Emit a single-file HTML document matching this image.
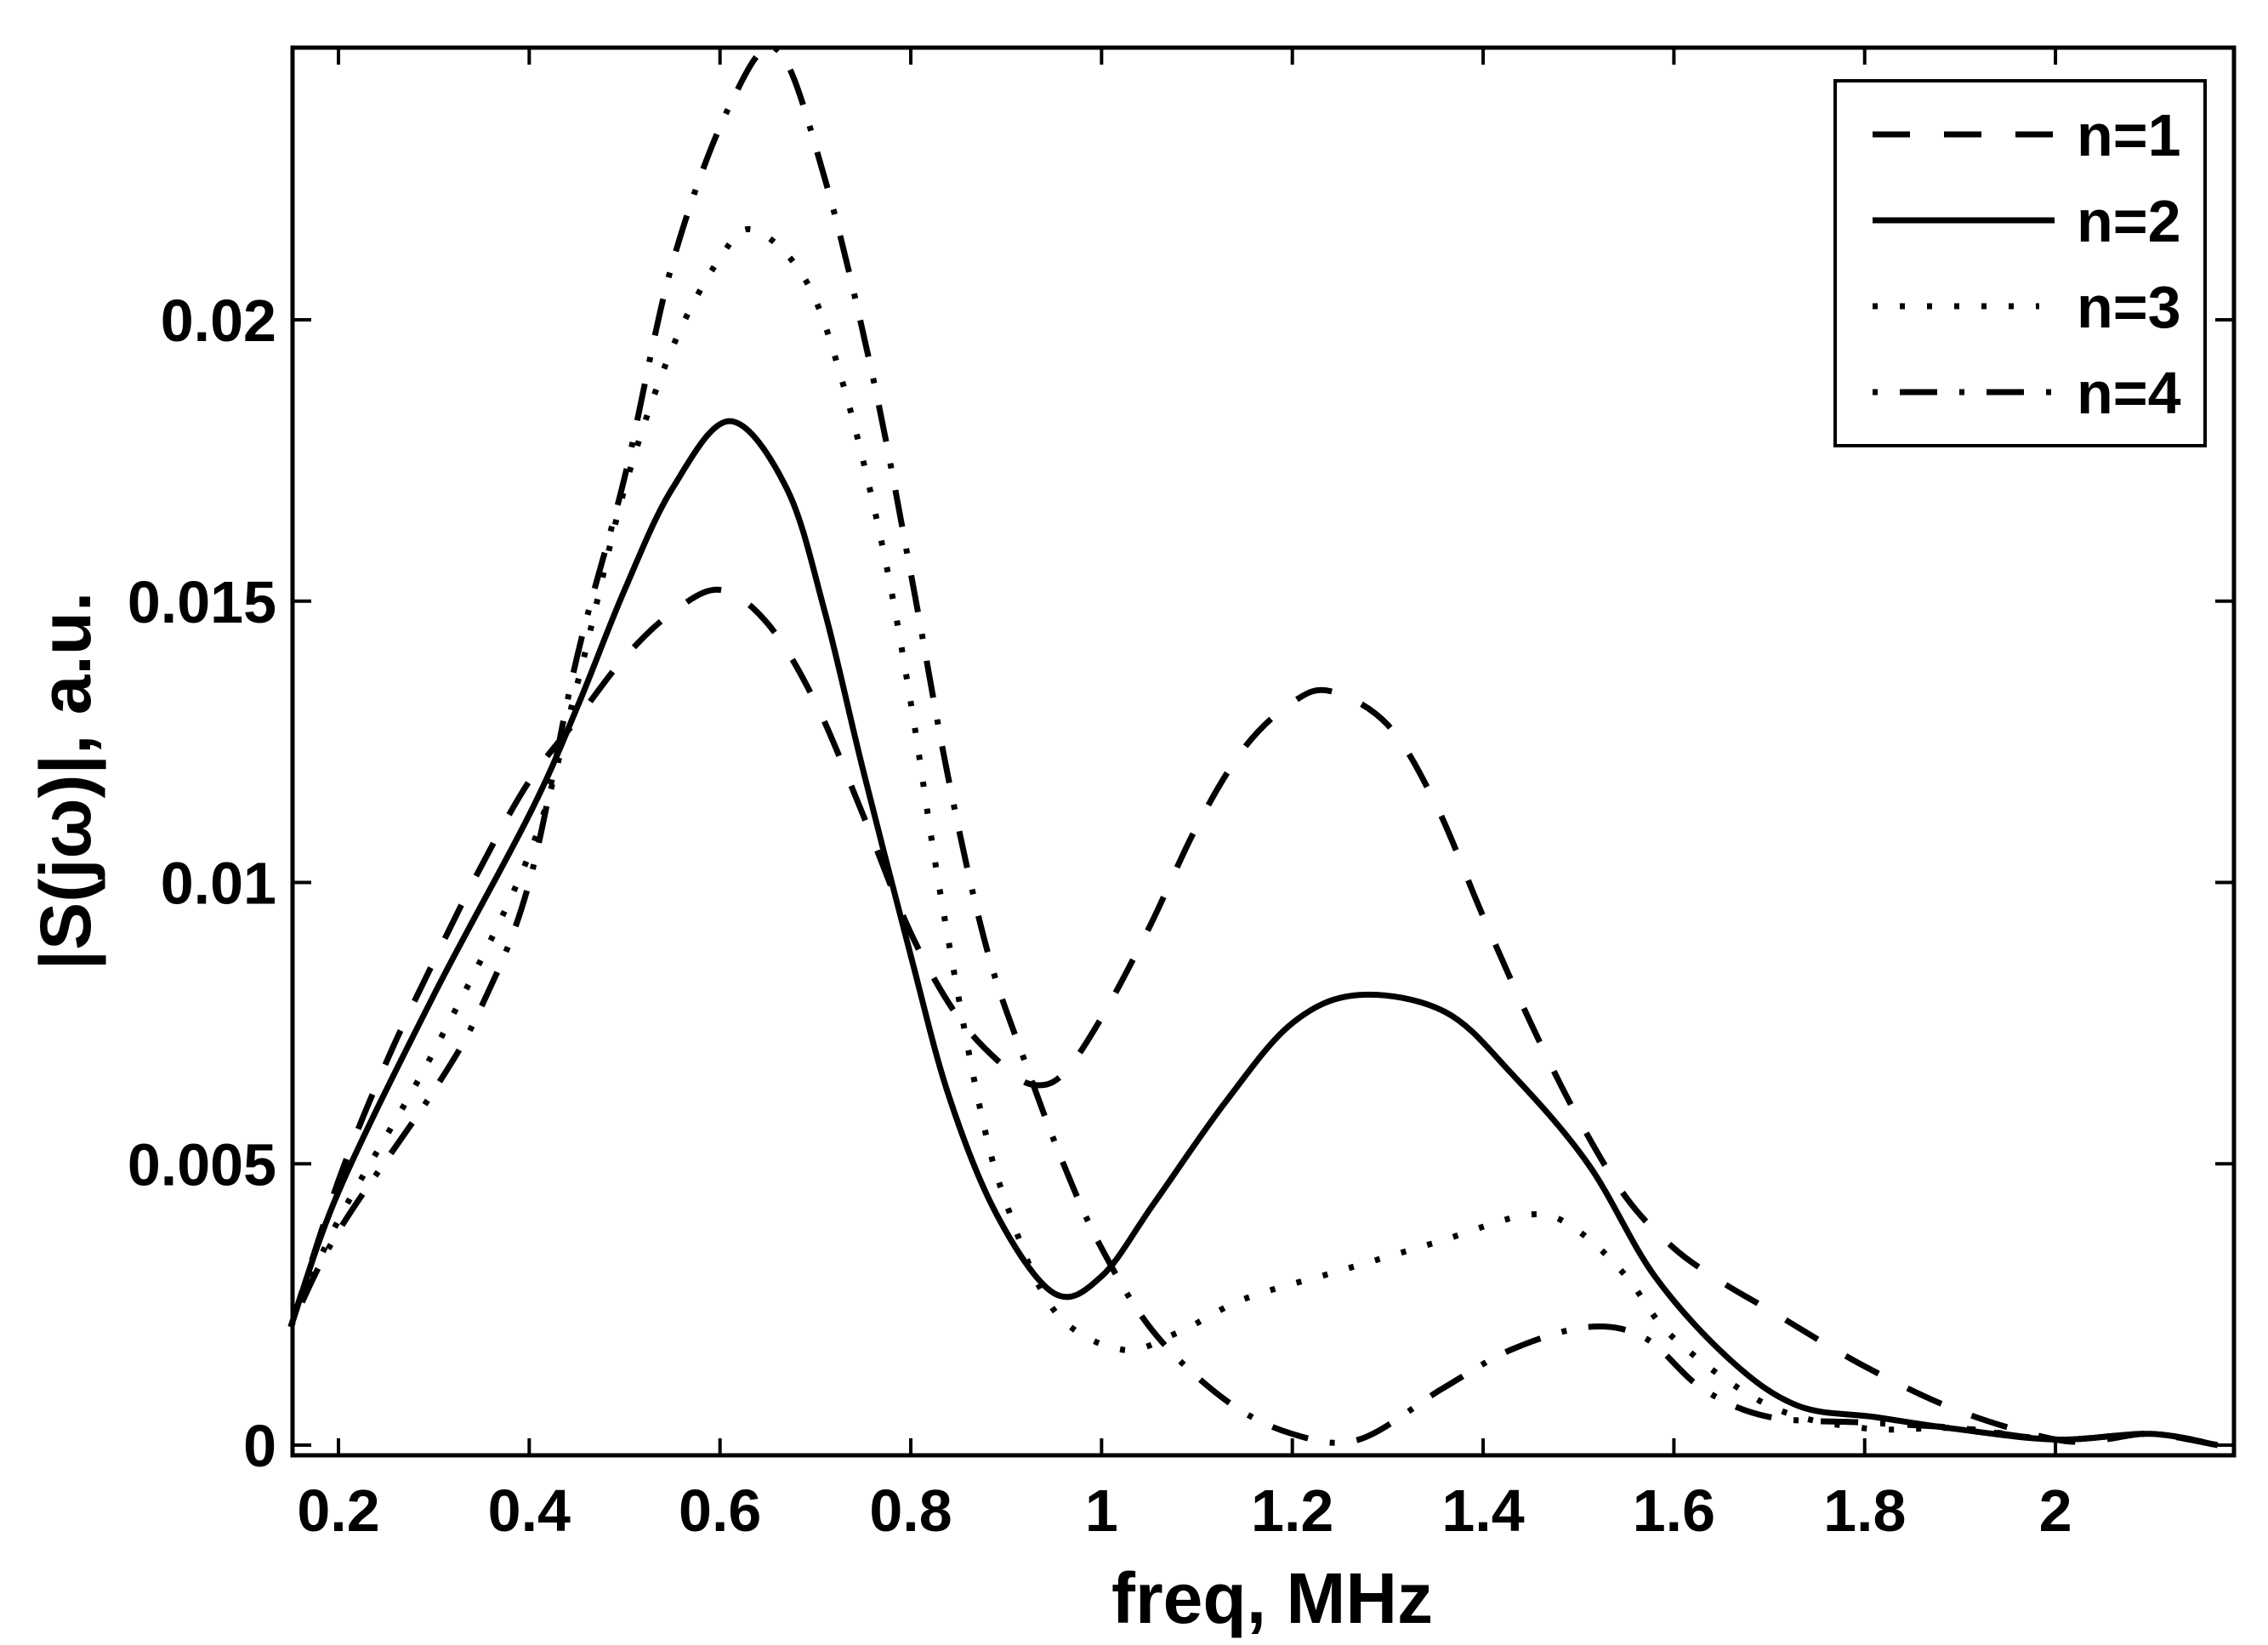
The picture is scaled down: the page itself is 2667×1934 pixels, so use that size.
<!DOCTYPE html>
<html><head><meta charset="utf-8"><style>
html,body{margin:0;padding:0;background:#fff;}
svg{display:block;font-family:"Liberation Sans",Arial,sans-serif;font-weight:bold;}
</style></head><body>
<svg id="chart" width="2667" height="1934" viewBox="0 0 2667 1934" xmlns="http://www.w3.org/2000/svg">
<rect x="0" y="0" width="2667" height="1934" fill="#fff"/>
<g id="curves"></g>
<g id="axes"></g>
<rect x="344" y="56" width="2283" height="1655" fill="none" stroke="#000" stroke-width="5"/>
<text x="1496" y="1908" font-size="84" text-anchor="middle">freq, MHz</text>
<text x="0" y="0" font-size="84" text-anchor="middle" transform="translate(106,918) rotate(-90)">|S(jω)|, a.u.</text>
<g>
<rect x="2158" y="95" width="435" height="429" fill="#fff" stroke="#000" stroke-width="4"/>
<line x1="2202" y1="158" x2="2416" y2="158" stroke="#000" stroke-width="7" stroke-dasharray="44,40"/>
<text x="2442" y="183" font-size="70">n=1</text>
<line x1="2202" y1="259" x2="2416" y2="259" stroke="#000" stroke-width="7"/>
<text x="2442" y="284" font-size="70">n=2</text>
<line x1="2202" y1="360" x2="2398" y2="360" stroke="#000" stroke-width="7" stroke-dasharray="6,26"/>
<text x="2442" y="385" font-size="70">n=3</text>
<line x1="2202" y1="461" x2="2416" y2="461" stroke="#000" stroke-width="7" stroke-dasharray="6,26,44,26"/>
<text x="2442" y="486" font-size="70">n=4</text>
</g>
</svg>
<script>
const xTicks = [0.2,0.4,0.6,0.8,1,1.2,1.4,1.6,1.8,2];
const xTickLabels = ["0.2","0.4","0.6","0.8","1","1.2","1.4","1.6","1.8","2"];
const yTicks = [0,0.005,0.01,0.015,0.02];
const yTickLabels = ["0","0.005","0.01","0.015","0.02"];
const x1 = [0.15,0.2,0.25,0.3,0.35,0.4,0.45,0.5,0.55,0.6,0.65,0.7,0.75,0.8,0.85,0.9,0.93,0.96,1.0,1.05,1.1,1.15,1.2,1.24,1.3,1.35,1.4,1.45,1.5,1.55,1.6,1.65,1.7,1.8,1.9,2.0,2.05,2.1,2.17];
const y1 = [0.0021,0.0047,0.0068,0.0086,0.0103,0.0118,0.0129,0.0140,0.0148,0.0152,0.0146,0.0132,0.0112,0.0091,0.0076,0.0067,0.0064,0.0066,0.0076,0.0092,0.0110,0.0124,0.0132,0.0134,0.0128,0.0114,0.0094,0.0075,0.0058,0.0044,0.0035,0.0029,0.0024,0.0014,0.0006,0.0001,0.0001,0.0002,0.0];
const x2 = [0.15,0.2,0.3,0.4,0.45,0.5,0.55,0.61,0.67,0.71,0.75,0.8,0.84,0.89,0.95,1.0,1.055,1.13,1.2,1.27,1.36,1.43,1.51,1.58,1.66,1.73,1.81,1.89,2.0,2.1,2.17];
const y2 = [0.0021,0.0045,0.0080,0.0112,0.0131,0.0152,0.0170,0.0182,0.0170,0.0148,0.0120,0.0087,0.0062,0.0041,0.0027,0.0030,0.0043,0.0061,0.0075,0.0080,0.0077,0.0066,0.0050,0.0030,0.0015,0.0007,0.0005,0.0003,0.0001,0.0002,0.0];
const x3 = [0.15,0.2,0.3,0.4,0.45,0.5,0.55,0.6,0.635,0.69,0.73,0.77,0.8,0.83,0.87,0.9,0.95,1.02,1.08,1.15,1.25,1.35,1.45,1.5,1.55,1.6,1.7,1.8,1.9,2.0,2.1,2.17];
const y3 = [0.0021,0.0040,0.0070,0.0105,0.0135,0.0170,0.0195,0.0211,0.0216,0.0207,0.0188,0.0160,0.0132,0.0099,0.0062,0.0043,0.0024,0.0017,0.0020,0.0026,0.0031,0.0036,0.0041,0.0038,0.0030,0.0019,0.0007,0.0003,0.0003,0.0001,0.0002,0.0];
const x4 = [0.15,0.2,0.3,0.35,0.4,0.45,0.5,0.55,0.61,0.66,0.71,0.76,0.8,0.84,0.88,0.92,0.96,1.0,1.055,1.13,1.2,1.27,1.357,1.43,1.51,1.57,1.63,1.7,1.8,1.9,2.0,2.1,2.17];
const y4 = [0.0021,0.0038,0.0063,0.0078,0.0100,0.0140,0.0172,0.0210,0.0238,0.0248,0.0225,0.0190,0.0155,0.0118,0.0088,0.0068,0.0050,0.0035,0.0020,0.0008,0.0002,0.0001,0.0010,0.0017,0.0021,0.0019,0.0010,0.0005,0.0004,0.0003,0.0001,0.0002,0.0];

const NS = "http://www.w3.org/2000/svg";
const X0 = 398, XS = 1121.7;
const Y0 = 1699, YS = 66150;
function sx(v){ return X0 + (v - 0.2) * XS; }
function sy(v){ return Y0 - v * YS; }
function pathFor(xs, ys){
  const p = xs.map((x,i)=>[sx(x), sy(ys[i])]);
  let d = "M" + p[0][0].toFixed(1) + "," + p[0][1].toFixed(1);
  for (let i=0;i<p.length-1;i++){
    const a=p[Math.max(i-1,0)], b=p[i], c=p[i+1], e=p[Math.min(i+2,p.length-1)];
    const c1=[b[0]+(c[0]-a[0])/6, b[1]+(c[1]-a[1])/6];
    const c2=[c[0]-(e[0]-b[0])/6, c[1]-(e[1]-b[1])/6];
    d += " C"+c1[0].toFixed(1)+","+c1[1].toFixed(1)+" "+c2[0].toFixed(1)+","+c2[1].toFixed(1)+" "+c[0].toFixed(1)+","+c[1].toFixed(1);
  }
  return d;
}
const curves = document.getElementById("curves");
function addCurve(xs, ys, dash, name){
  const el = document.createElementNS(NS,"path");
  el.setAttribute("d", pathFor(xs, ys));
  el.setAttribute("fill","none");
  el.setAttribute("stroke","#000");
  el.setAttribute("stroke-width","7");
  if (dash) el.setAttribute("stroke-dasharray", dash);
  
  
  curves.appendChild(el);
}
addCurve(x1, y1, "44,38", "series-n1");
addCurve(x2, y2, null, "series-n2");
addCurve(x3, y3, "6,26", "series-n3");
addCurve(x4, y4, "6,26,44,26", "series-n4");

const axes = document.getElementById("axes");
function line(xa,ya,xb,yb,name){
  const l = document.createElementNS(NS,"line");
  l.setAttribute("x1",xa); l.setAttribute("y1",ya); l.setAttribute("x2",xb); l.setAttribute("y2",yb);
  l.setAttribute("stroke","#000"); l.setAttribute("stroke-width","4");
  
  
  axes.appendChild(l);
}
function text(x,y,s,anchor,name){
  const t = document.createElementNS(NS,"text");
  t.setAttribute("x",x); t.setAttribute("y",y);
  t.setAttribute("font-size","70");
  t.setAttribute("text-anchor",anchor);
  t.textContent = s;
  
  
  axes.appendChild(t);
}
xTicks.forEach((v,i)=>{
  const x = sx(v);
  line(x,1711,x,1691,"x-tick");
  line(x,56,x,76,"x-tick-top");
  text(x,1800,xTickLabels[i],"middle","x-tick-label");
});
yTicks.forEach((v,i)=>{
  const y = sy(v);
  line(344,y,366,y,"y-tick");
  line(2627,y,2605,y,"y-tick-right");
  text(325,y+25,yTickLabels[i],"end","y-tick-label");
});
</script>
</body></html>
